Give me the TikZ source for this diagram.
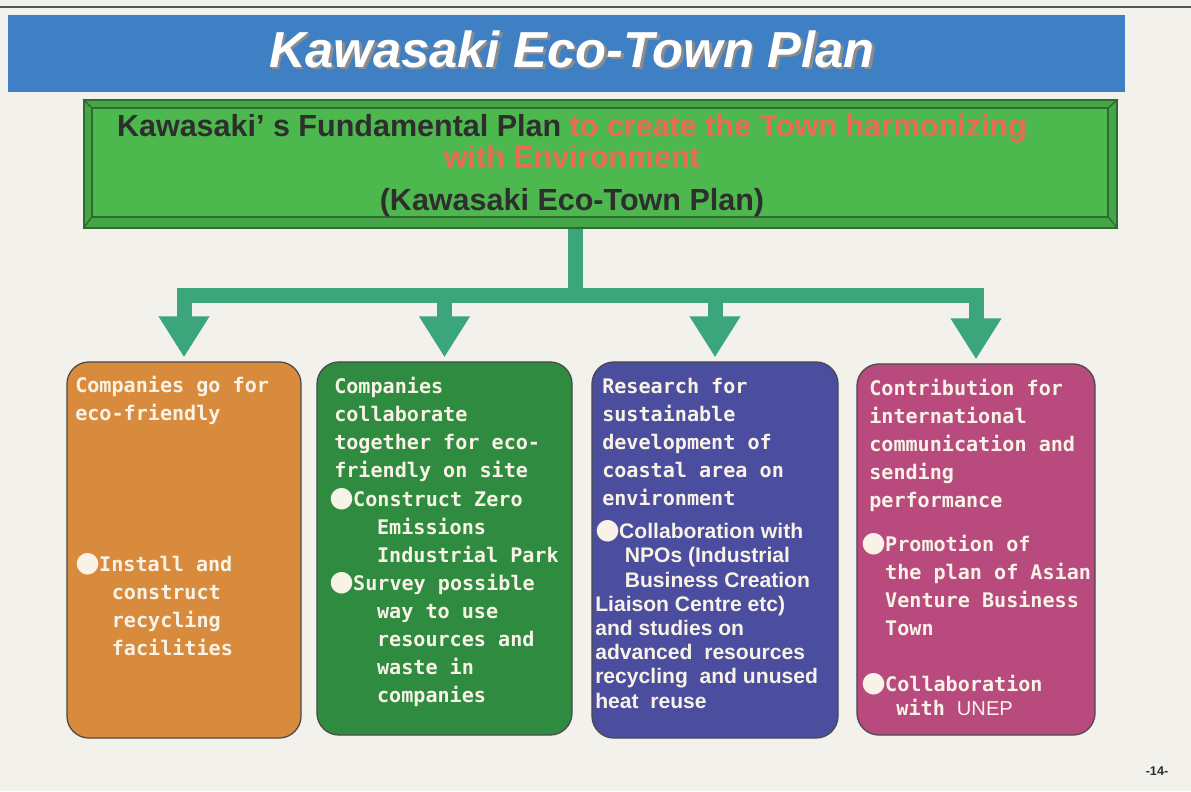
\documentclass[tikz,border=0pt]{standalone}
\usepackage{fontspec}
\usepackage{xcolor}
\usepackage{tikz}
\usetikzlibrary{shapes,arrows,positioning,calc,arrows.meta}
\setmainfont{Liberation Sans}
\newfontfamily\cardfont{DejaVu Sans Mono}
\newfontfamily\dotfont{DejaVu Sans}

\definecolor{paper}{HTML}{F2F1EC}
\definecolor{rulegray}{HTML}{555555}
\definecolor{titleblue}{HTML}{3F80C4}
\definecolor{planface}{HTML}{4DB84E}
\definecolor{planframe}{HTML}{44A646}
\definecolor{planline}{HTML}{2D6B30}
\definecolor{planred}{HTML}{EE6A58}
\definecolor{darktext}{HTML}{2E2E2E}
\definecolor{arrowgreen}{HTML}{3BA57C}
\definecolor{cardorange}{HTML}{D98B3D}
\definecolor{cardgreen}{HTML}{2F8B40}
\definecolor{cardblue}{HTML}{4B4D9F}
\definecolor{cardpink}{HTML}{B84A7E}
\definecolor{cardline}{HTML}{4A4A4A}
\definecolor{cardwhite}{HTML}{F8F3E6}

\newcommand{\dotitem}{\makebox[17pt][l]{\dotfont\fontsize{20}{20}\selectfont ●}}

\begin{document}
\begin{tikzpicture}[x=0.025cm, y=-0.025cm,
    card/.style={draw=cardline, line width=0.9pt, rounded corners=0.55cm},
    cardtext/.style={anchor=base west, inner sep=0pt, align=left, text=cardwhite,
        font=\cardfont\bfseries\fontsize{14.3}{19.9}\selectfont},
    trunk/.style={draw=arrowgreen, line width=0.375cm},
    branch/.style={trunk, -{Triangle[width=1.2cm,length=1.025cm]}, shorten >=0.1cm}]

    % Page
    \fill[paper] (0,0) rectangle (1191,791);
    \useasboundingbox (0,0) rectangle (1191,791);
    \draw[rulegray, line width=1pt] (0,7) -- (1191,7);

    % Title bar
    \node[fill=titleblue, minimum width=27.925cm, minimum height=1.925cm, inner sep=0pt] (title) at (566.5,53.5) {};
    \node[text=black!45, font=\bfseries\itshape\fontsize{36}{36}\selectfont] (titleshade) at (574.5,51) {Kawasaki Eco-Town Plan};
    \node[text=white, font=\bfseries\itshape\fontsize{36}{36}\selectfont] (titlelabel) at (572,49) {Kawasaki Eco-Town Plan};

    % Fundamental plan
    \node[fill=planframe, draw=planline, line width=1pt, minimum width=25.825cm, minimum height=3.2cm] (plan) at (600.5,164) {};
    \node[fill=planface, draw=planline, line width=1pt, minimum width=25.4cm, minimum height=2.725cm] (planin) at (600,162.5) {};
    \draw[planline, line width=1pt] (plan.north west) -- (planin.north west)
        (plan.north east) -- (planin.north east)
        (plan.south west) -- (planin.south west)
        (plan.south east) -- (planin.south east);
    \node[anchor=base, align=center, inner sep=0pt, text=darktext,
        font=\bfseries\fontsize{21.7}{22}\selectfont] (plantitle) at (572,210)
        {Kawasaki' s Fundamental Plan \textcolor{planred}{to create the Town harmonizing}\\
         \textcolor{planred}{with Environment}\\[8pt]
         (Kawasaki Eco-Town Plan)};

    % Four cards
    \node[card, fill=cardorange, minimum width=5.85cm, minimum height=9.4cm] (b1) at (184,550) {};
    \node[card, fill=cardgreen, minimum width=6.375cm, minimum height=9.325cm] (b2) at (444.5,548.5) {};
    \node[card, fill=cardblue, minimum width=6.15cm, minimum height=9.4cm] (b3) at (715,550) {};
    \node[card, fill=cardpink, minimum width=5.95cm, minimum height=9.275cm] (b4) at (976,549.5) {};

    % Branching arrows
    \coordinate (hub) at (575,295);
    \draw[trunk] (plan.south -| hub) -- (hub);
    \draw[trunk, line cap=rect] (b1.north |- hub) -- (b4.north |- hub);
    \foreach \b in {b1,b2,b3,b4}
        \draw[branch] (\b.north |- hub) -- (\b.north);

    % Card texts (anchored on the last line)
    \node[cardtext] (b1head) at (75,420) {Companies go for\\eco-friendly};
    \node[cardtext] (b1item) at (75,655) {\dotitem Install and\\\hspace*{26pt}construct\\\hspace*{26pt}recycling\\\hspace*{26pt}facilities};

    \node[cardtext] (b2head) at (334,477) {Companies\\collaborate\\together for eco-\\friendly on site};
    \node[cardtext] (b2item) at (329,702) {\dotitem Construct Zero\\\hspace*{34pt}Emissions\\\hspace*{34pt}Industrial Park\\
        \dotitem Survey possible\\\hspace*{34pt}way to use\\\hspace*{34pt}resources and\\\hspace*{34pt}waste in\\\hspace*{34pt}companies};

    \node[cardtext] (b3head) at (602,505) {Research for\\sustainable\\development of\\coastal area on\\environment};
    \node[cardtext, font=\bfseries\fontsize{15}{17.2}\selectfont] (b3item) at (595,708)
        {\dotitem Collaboration with\\\hspace*{21pt}NPOs (Industrial\\\hspace*{21pt}Business Creation\\Liaison Centre etc)\\
         and studies on\\advanced\ \ resources\\recycling\ \ and unused\\heat\ \ reuse};

    \node[cardtext] (b4head) at (869,507) {Contribution for\\international\\communication and\\sending\\performance};
    \node[cardtext] (b4item) at (861,635) {\dotitem Promotion of\\\hspace*{17pt}the plan of Asian\\\hspace*{17pt}Venture Business\\\hspace*{17pt}Town};
    \node[cardtext, font=\cardfont\bfseries\fontsize{14.3}{16.4}\selectfont] (b4unep) at (861,715)
        {\dotitem Collaboration\\\hspace*{25pt}with {\rmfamily\mdseries UNEP}};

    % Page number
    \node[text=darktext, font=\bfseries\fontsize{9}{9}\selectfont] (pageno) at (1157,771) {-14-};
\end{tikzpicture}
\end{document}
